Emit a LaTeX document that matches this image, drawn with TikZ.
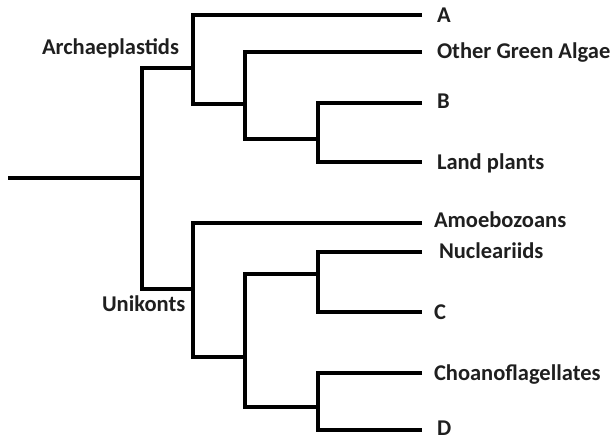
\documentclass[tikz,border=0pt]{standalone}
\usepackage{fontspec}
\setmainfont{Carlito}
\begin{document}
\begin{tikzpicture}[x=1bp,y=-1bp,
  br/.style={line width=3.4bp, line join=miter, black},
  lab/.style={anchor=base west, inner sep=0pt, outer sep=0pt, text=black!88,
     font=\fontsize{22.6}{25}\selectfont\bfseries}]
\useasboundingbox (0,0) rectangle (615,438);
% coordinates of the tree
\coordinate (r0) at (8,178);
\coordinate (j0) at (142,178);
\coordinate (ja) at (142,68);
\coordinate (ju) at (142,289);
% Archaeplastids clade
\coordinate (p1) at (193,68);
\coordinate (p1t) at (193,15);
\coordinate (p1b) at (193,104);
\coordinate (p2) at (245,104);
\coordinate (p2t) at (245,52);
\coordinate (p2b) at (245,139);
\coordinate (p3) at (318,139);
\coordinate (p3t) at (318,103);
\coordinate (p3b) at (318,162);
\coordinate (eA) at (422,15);
\coordinate (eO) at (422,52);
\coordinate (eB) at (422,103);
\coordinate (eL) at (422,162);
% Unikonts clade
\coordinate (u1) at (193,289);
\coordinate (u1t) at (193,223);
\coordinate (u1b) at (193,357);
\coordinate (u2) at (245,357);
\coordinate (u2t) at (245,274);
\coordinate (u2b) at (245,407);
\coordinate (u3) at (318,274);
\coordinate (u3t) at (318,252);
\coordinate (u3b) at (318,312);
\coordinate (u4) at (318,407);
\coordinate (u4t) at (318,373);
\coordinate (u4b) at (318,430);
\coordinate (eAm) at (422,223);
\coordinate (eN) at (422,252);
\coordinate (eC) at (422,312);
\coordinate (eCh) at (422,373);
\coordinate (eD) at (422,430);
% branches
\draw[br] (r0) -- (j0);
\draw[br] (p1) -- (ja) -- (ju) -- (u1);
\draw[br] (eA) -- (p1t) -- (p1b) -- (p2);
\draw[br] (eO) -- (p2t) -- (p2b) -- (p3);
\draw[br] (eB) -- (p3t) -- (p3b) -- (eL);
\draw[br] (eAm) -- (u1t) -- (u1b) -- (u2);
\draw[br] (u3) -- (u2t) -- (u2b) -- (u4);
\draw[br] (eN) -- (u3t) -- (u3b) -- (eC);
\draw[br] (eCh) -- (u4t) -- (u4b) -- (eD);
% labels
\node[lab] (lA) at (437,23) {A};
\node[lab] (lO) at (437,59) {Other Green Algae};
\node[lab] (lB) at (437,109) {B};
\node[lab] (lL) at (437,170) {Land plants};
\node[lab] (lAm) at (434,228) {Amoebozoans};
\node[lab] (lN) at (439,259) {Nucleariids};
\node[lab] (lC) at (434,319) {C};
\node[lab] (lCh) at (434,380) {Choanoflagellates};
\node[lab] (lD) at (437,435) {D};
\node[lab] (lArc) at (42,55) {Archaeplastids};
\node[lab] (lUni) at (102,311) {Unikonts};
\end{tikzpicture}
\end{document}
